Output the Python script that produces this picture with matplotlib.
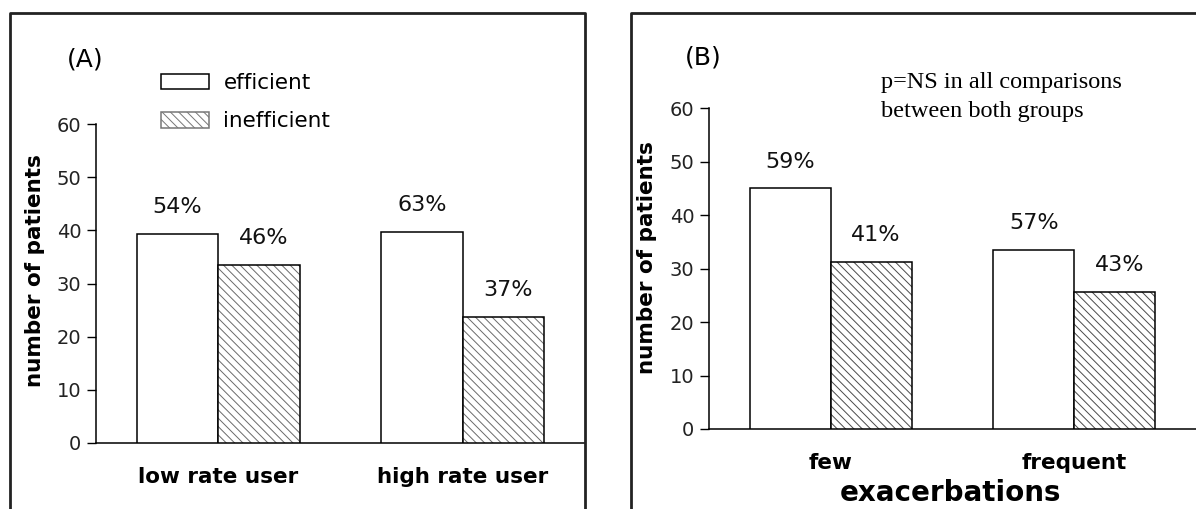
import matplotlib
matplotlib.use("Agg")
import matplotlib.pyplot as plt
import numpy as np
from matplotlib.patches import Patch
from matplotlib.lines import Line2D

# data
groups_a = ["low rate user", "high rate user"]
efficient_a = [39.3, 39.7]
inefficient_a = [33.5, 23.7]
pct_eff_a = ["54%", "63%"]
pct_ineff_a = ["46%", "37%"]

groups_b = ["few", "frequent"]
efficient_b = [45.0, 33.5]
inefficient_b = [31.2, 25.6]
pct_eff_b = ["59%", "57%"]
pct_ineff_b = ["41%", "43%"]

yticks = [0, 10, 20, 30, 40, 50, 60]

W, H = 1196, 509
plt.rcParams['font.family'] = ['DejaVu Sans']
plt.rcParams['hatch.linewidth'] = 0.7

fig = plt.figure(figsize=(W / 100, H / 100), dpi=100)

HATCH = '\\\\\\\\'
w = 0.333


def draw_panel(ax, groups, eff, ineff, p_eff, p_ineff, hatch_col):
    x = np.arange(len(groups))
    ax.bar(x - w / 2, eff, w, facecolor='white', edgecolor='black', lw=1.1, zorder=3)
    # hatched bars: hatch in grey, outline in black on top
    ax.bar(x + w / 2, ineff, w, facecolor='white', edgecolor=hatch_col, hatch=HATCH, lw=0, zorder=3)
    ax.bar(x + w / 2, ineff, w, facecolor='none', edgecolor='black', lw=1.1, zorder=4)
    for xi, v, s in zip(x, eff, p_eff):
        ax.text(xi - w / 2, v + 5.0, s, ha='center', va='center', fontsize=16, color='#111')
    for xi, v, s in zip(x, ineff, p_ineff):
        ax.text(xi + w / 2 + 0.02, v + 5.0, s, ha='center', va='center', fontsize=16, color='#111')
    ax.set_xlim(-0.5, 1.5)
    ax.set_ylim(0, 60)
    ax.set_yticks(yticks)
    ax.tick_params(axis='y', length=6.5, width=1, pad=4, labelsize=14, labelcolor='#222')
    ax.set_xticks(x, groups, fontsize=15.5, fontweight='bold')
    ax.tick_params(axis='x', length=0, pad=17)
    for s in ['top', 'right']:
        ax.spines[s].set_visible(False)
    for s in ['left', 'bottom']:
        ax.spines[s].set_linewidth(1.1)
    ax.set_ylabel("number of patients", fontsize=15.5, fontweight='bold')


axA = fig.add_axes([96 / W, 1 - 443 / H, (585 - 96) / W, (443 - 124) / H])
draw_panel(axA, groups_a, efficient_a, inefficient_a, pct_eff_a, pct_ineff_a, '#6a6a6a')
axA.yaxis.set_label_coords(-0.105, 0.54)

axB = fig.add_axes([709 / W, 1 - 429 / H, (1196 - 709) / W, (429 - 108) / H])
draw_panel(axB, groups_b, efficient_b, inefficient_b, pct_eff_b, pct_ineff_b, '#4a4a4a')
axB.yaxis.set_label_coords(-0.107, 0.533)
axB.set_xlabel("exacerbations", fontsize=20, fontweight='bold')
axB.xaxis.set_label_coords(0.495, -0.155)

# legend
handles = [Patch(facecolor='white', edgecolor='black', lw=1.1),
           Patch(facecolor='white', edgecolor='#777', hatch=HATCH, lw=1.1)]
fig.legend(handles, ["efficient", "inefficient"], loc='upper left',
           bbox_to_anchor=(161 / W, 1 - 73 / H), frameon=False, fontsize=15.5,
           borderpad=0, borderaxespad=0,
           handlelength=2.25, handleheight=0.75, handletextpad=0.65, labelspacing=0.85)

fig.text(85 / W, 1 - 60 / H, "(A)", fontsize=18, ha='center', va='center')
fig.text(703 / W, 1 - 58 / H, "(B)", fontsize=18, ha='center', va='center')
fig.text(881 / W, 1 - 72 / H, "p=NS in all comparisons\nbetween both groups",
         family='Liberation Serif', fontsize=17.5, ha='left', va='top', linespacing=1.5)

# panel frames
for xs, ys in [([10, 10, 585, 585], [509, 13, 13, 509]),
               ([631, 631, 1196], [509, 13, 13])]:
    fig.add_artist(Line2D(np.array(xs) / W, 1 - np.array(ys) / H,
                          transform=fig.transFigure, color='#222', lw=2))

fig.savefig("out.png", dpi=100)
